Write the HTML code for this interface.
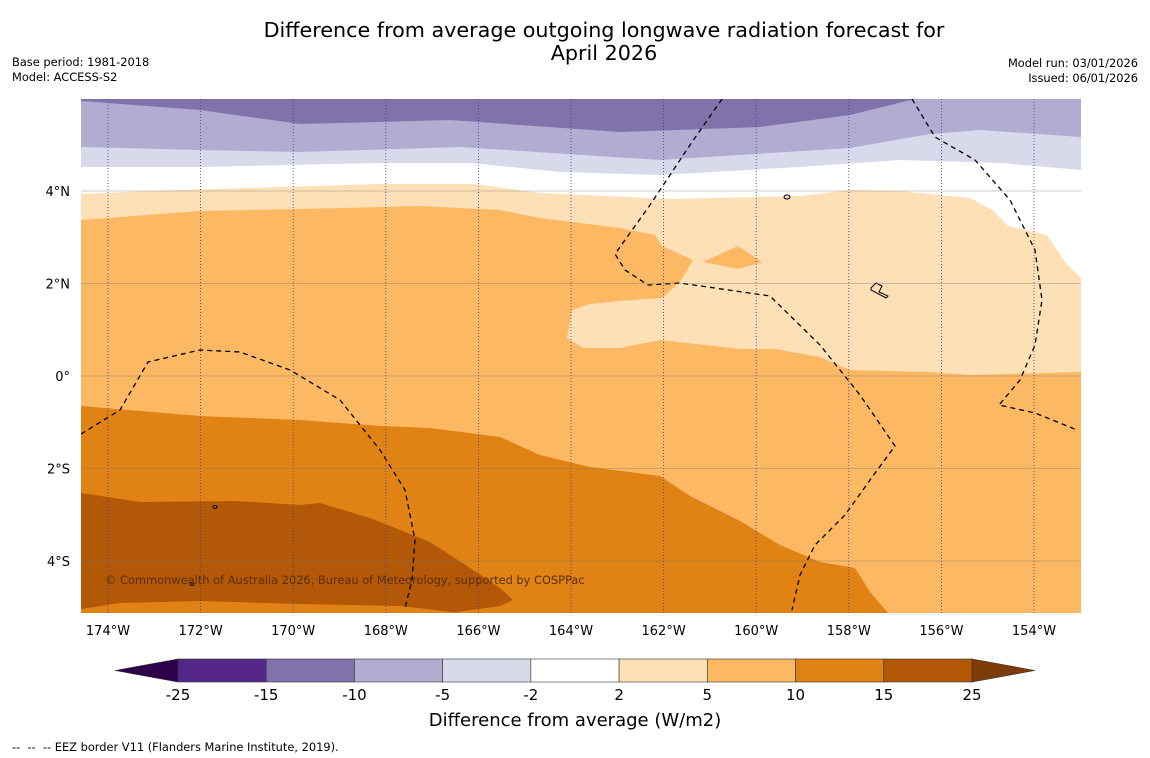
<!DOCTYPE html>
<html><head><meta charset="utf-8"><style>
body{margin:0;width:1150px;height:758px;background:#fff;font-family:"DejaVu Sans","Liberation Sans",sans-serif;overflow:hidden;position:relative}
.t{position:absolute;white-space:nowrap}
</style></head><body>
<div class="t" style="left:0;width:1208px;top:19px;text-align:center;font-size:20.7px;line-height:23px;color:#000">Difference from average outgoing longwave radiation forecast for<br>April 2026</div>
<div class="t" style="left:12px;top:55px;font-size:11.4px;line-height:15px">Base period: 1981-2018<br>Model: ACCESS-S2</div>
<div class="t" style="right:12px;top:56px;font-size:11.4px;line-height:15px;text-align:right">Model run: 03/01/2026<br>Issued: 06/01/2026</div>
<div class="t" style="left:12px;top:740px;font-size:11.4px">--&nbsp; --&nbsp; -- EEZ border V11 (Flanders Marine Institute, 2019).</div>
<svg id="s" width="1150" height="758" style="position:absolute;left:0;top:0" font-family="DejaVu Sans, Liberation Sans, sans-serif">
<defs><clipPath id="c"><rect x="81" y="99" width="1000" height="514"/></clipPath></defs>
<g clip-path="url(#c)">
<rect x="81" y="99" width="1000" height="514" fill="#8073ac"/>
<path fill="#b2abd2" d="M81,101 L200,110 300,124 450,120 620,132 760,127 850,115 915,99 1081,99 1081,613 81,613Z"/>
<path fill="#d8daeb" d="M81,147 L200,150 300,152 460,147 660,160 850,148 930,134 980,130 1081,137 1081,613 81,613Z"/>
<path fill="#ffffff" d="M81,167 L200,167 380,163 470,163 560,172 660,175 800,167 900,160 1000,163 1081,170 1081,613 81,613Z"/>
<path fill="#fee0b6" d="M81,194 L150,191 380,184 475,184 540,193 670,199 800,196 850,190 900,191 970,198 992,210 1008,226 1047,235 1065,262 1081,278 1081,613 81,613Z"/>
<path fill="#fdb863" d="M81,220 L200,211 300,209 420,206 500,210 540,218 620,228 655,235 662,246 693,260 680,282 662,298 620,301 590,304 572,310 567,338 583,348 620,348 660,340 740,349 775,349 820,357 850,370 930,372 970,375 1081,372 1081,613 81,613Z"/>
<path fill="#fdb863" d="M703,262 L738,246 762,262 738,269Z"/>
<path fill="#e08214" d="M81,406 L200,416 300,420 380,426 430,428 500,437 540,455 590,467 660,476 690,496 740,521 780,545 820,562 855,568 870,592 888,613 81,613Z"/>
<path fill="#b35806" d="M81,493 L140,502 235,501 300,505 320,503 370,518 430,542 470,568 500,588 513,600 500,606 450,613 81,613Z"/>
<path fill="#e08214" d="M81,609 L120,603 200,601 300,604 400,606 460,613 81,613Z"/>
<g fill="none" stroke="#000" stroke-width="1.3" stroke-dasharray="5,4">
<path d="M81,434 L120,410 148,362 200,350 240,352 290,370 340,400 380,450 405,490 415,540 412,580 405,608"/>
<path d="M722,99 L690,145 650,205 615,254 625,270 648,285 680,283 770,296 820,345 860,395 895,446 870,480 845,515 815,545 800,575 792,610"/>
<path d="M912,99 L935,137 975,160 1010,200 1035,250 1042,300 1035,345 1020,380 999,405 1035,413 1077,430"/>
</g>
<g fill="none" stroke="#000" stroke-width="1">
<ellipse cx="787" cy="197" rx="3" ry="2"/><path d="M871,288 L876,283 882,286 879,292 888,296 886,298 871,290Z"/>
<ellipse cx="215" cy="507" rx="2" ry="1.5"/><ellipse cx="192" cy="584" rx="2" ry="1.5"/>
</g>
</g>
<g id="grid"></g>
<g id="ticks" font-size="13" fill="#000"></g>
<text x="105" y="584" font-size="11.4" fill="#5a2f0a">© Commonwealth of Australia 2026, Bureau of Meteorology, supported by COSPPac</text>
<g id="cbar"></g>
<text x="575" y="726" text-anchor="middle" font-size="18">Difference from average (W/m2)</text>
</svg>
<script>
const lonTicks=[-174,-172,-170,-168,-166,-164,-162,-160,-158,-156,-154];
const latTicks=[4,2,0,-2,-4];
const cbLevels=[-25,-15,-10,-5,-2,2,5,10,15,25];
const cbColors=["#542788","#8073ac","#b2abd2","#d8daeb","#ffffff","#fee0b6","#fdb863","#e08214","#b35806"];
const cbExt=["#2d004b","#7f3b08"];
const NS="http://www.w3.org/2000/svg";
const xLon=l=>108+(l+174)*46.3, yLat=l=>376-l*46.25;
function mk(t,a,p){const e=document.createElementNS(NS,t);for(const k in a)e.setAttribute(k,a[k]);p.appendChild(e);return e;}
const g=document.getElementById('grid'),tk=document.getElementById('ticks');
lonTicks.forEach(l=>{const x=xLon(l);
const ln=mk('line',{x1:x,x2:x,y1:99,y2:613,stroke:'#3a3aa0','stroke-width':0.8,'stroke-dasharray':'1,2'},g);


const t=mk('text',{x:x,y:635,'text-anchor':'middle'},tk);t.textContent=Math.abs(l)+'°W';

});
latTicks.forEach(l=>{const y=yLat(l);
const ln=mk('line',{x1:81,x2:1081,y1:y,y2:y,stroke:'#777','stroke-width':0.5,opacity:0.7},g);


const t=mk('text',{x:70,y:y+5,'text-anchor':'end'},tk);t.textContent=l==0?'0°':Math.abs(l)+'°'+(l>0?'N':'S');

});
const cb=document.getElementById('cbar');const x0=178,x1=972,w=(x1-x0)/cbColors.length,yt=659,yb=682;
cbColors.forEach((c,i)=>{const r=mk('rect',{x:x0+i*w,y:yt,width:w,height:yb-yt,fill:c,stroke:'#333','stroke-width':0.6},cb);

});
const p1=mk('polygon',{points:`${x0},${yt} ${x0},${yb} 115,670.5`,fill:cbExt[0],stroke:'#333','stroke-width':0.6},cb);


const p2=mk('polygon',{points:`${x1},${yt} ${x1},${yb} 1035,670.5`,fill:cbExt[1],stroke:'#333','stroke-width':0.6},cb);


cbLevels.forEach((v,i)=>{const t=mk('text',{x:x0+i*w,y:700,'text-anchor':'middle','font-size':15},cb);t.textContent=v;

});
</script>
</body></html>
